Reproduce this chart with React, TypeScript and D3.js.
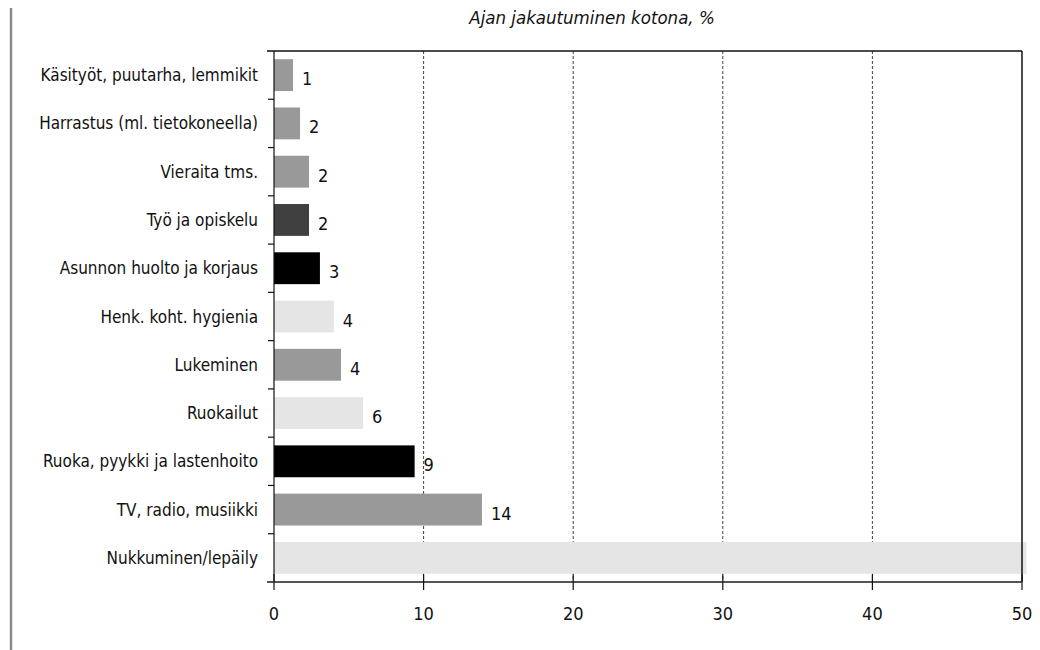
import React from "react";
import * as d3 from "d3";

const title = "Ajan jakautuminen kotona, %";
const categories = [
  "Käsityöt, puutarha, lemmikit",
  "Harrastus (ml. tietokoneella)",
  "Vieraita tms.",
  "Työ ja opiskelu",
  "Asunnon huolto ja korjaus",
  "Henk. koht. hygienia",
  "Lukeminen",
  "Ruokailut",
  "Ruoka, pyykki ja lastenhoito",
  "TV, radio, musiikki",
  "Nukkuminen/lepäily",
];
const values = [1.27, 1.74, 2.34, 2.34, 3.07, 4.0, 4.48, 5.95, 9.4, 13.9, 50.3];
const valueLabels: (string | null)[] = ["1", "2", "2", "2", "3", "4", "4", "6", "9", "14", null];
const barColors = [
  "#999999", "#999999", "#999999", "#404040", "#000000",
  "#e5e5e5", "#999999", "#e5e5e5", "#000000", "#999999", "#e5e5e5",
];
const xTicks = [0, 10, 20, 30, 40, 50];

const FONT = "'Liberation Sans Narrow', 'DejaVu Sans Condensed', Arial, sans-serif";

export default function App() {
  const W = 1040, H = 650;
  const left = 274, right = 1022, top = 51, bottom = 582;
  const x = d3.scaleLinear().domain([0, 50]).range([left, right]);
  const y = d3.scaleBand<string>().domain(categories).range([top, bottom]).paddingInner(0.34).paddingOuter(0.17);
  const boundaries = d3.range(categories.length + 1).map((i) => top + i * ((bottom - top) / categories.length));

  return (
    <svg width={W} height={H} style={{ position: "absolute", left: 0, top: 0, background: "#fff" }} fontFamily={FONT}>
      <line x1={11} x2={11} y1={8} y2={650} stroke="#8a8a8a" strokeWidth={2.5} />
      <text x={592} y={24} textAnchor="middle" fontStyle="italic" fontSize={18.5} fill="#111">{title}</text>

      {xTicks.filter((t) => t > 0 && t < 50).map((t) => (
        <line key={"g" + t} x1={x(t)} x2={x(t)} y1={top} y2={bottom} stroke="#444" strokeWidth={1} strokeDasharray="3,2" />
      ))}

      {categories.map((c, i) => (
        <rect key={c} x={x(0)} y={y(c)} width={x(values[i]) - x(0)} height={y.bandwidth()} fill={barColors[i]} />
      ))}

      {categories.map((c, i) =>
        valueLabels[i] ? (
          <text key={"v" + c} x={x(values[i]) + 9} y={(y(c) as number) + y.bandwidth() / 2 + 10} fontSize={18} fill="#111">
            {valueLabels[i]}
          </text>
        ) : null
      )}

      {/* frame */}
      <line x1={267} x2={right} y1={top} y2={top} stroke="#111" strokeWidth={1.5} />
      <line x1={right} x2={right} y1={top} y2={bottom} stroke="#111" strokeWidth={1.5} />
      <line x1={left} x2={left} y1={top} y2={bottom} stroke="#111" strokeWidth={1.2} />
      {boundaries.slice(1, -1).map((b, i) => (
        <line key={"yt" + i} x1={left - 6} x2={left} y1={b} y2={b} stroke="#111" strokeWidth={1.2} />
      ))}

      <line x1={267} x2={right} y1={bottom} y2={bottom} stroke="#555" strokeWidth={2} />
      {xTicks.map((t) => (
        <g key={"xt" + t}>
          <line x1={x(t)} x2={x(t)} y1={bottom - 8} y2={bottom + 8} stroke="#111" strokeWidth={1.2} />
          <text x={x(t)} y={620} textAnchor="middle" fontSize={18} fill="#111">{t}</text>
        </g>
      ))}

      {categories.map((c) => (
        <text key={"l" + c} x={258} y={(y(c) as number) + y.bandwidth() / 2 + 6} textAnchor="end" fontSize={17} fill="#111">
          {c}
        </text>
      ))}
    </svg>
  );
}
